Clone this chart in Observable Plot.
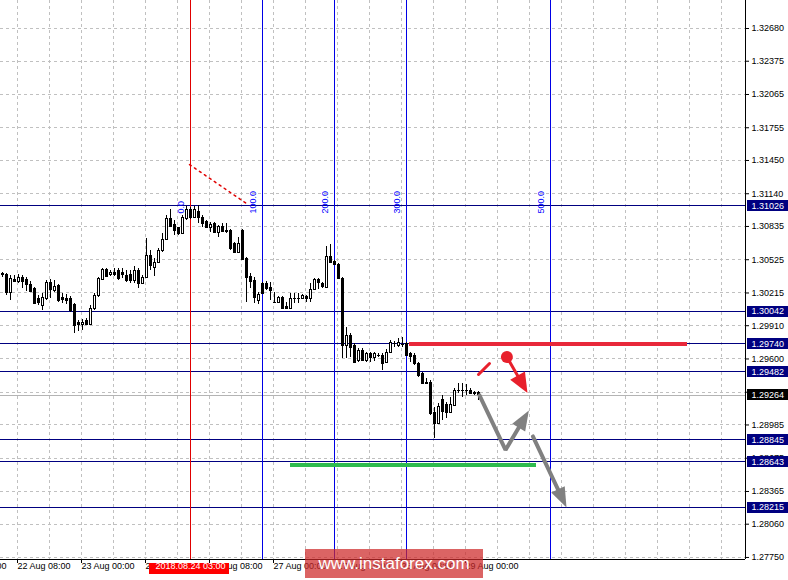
<!DOCTYPE html>
<html><head><meta charset="utf-8">
<script src="https://cdn.jsdelivr.net/npm/d3@7"></script>
<script src="https://cdn.jsdelivr.net/npm/@observablehq/plot@0.6"></script>
<style>
body{margin:0;background:#fff;}
#wrap{position:relative;width:788px;height:580px;overflow:hidden;}
#wrap svg{display:block;}
.wm{position:absolute;left:305px;top:549px;width:178px;height:29px;background:rgba(205,40,40,0.72);color:#fff;font:17px "Liberation Sans",Arial,sans-serif;line-height:29px;text-align:center;}
</style></head><body>
<div id="wrap"><div class="wm">www.instaforex.com</div></div>
<script>
// ---- data: H1 candles, bar 0 = 22 Aug 04:00 ----
const open = [
1.30390,1.30387,1.30219,1.30340,1.30321,1.30359,1.30340,1.30293,1.30256,1.30163,
1.30097,1.30163,1.30312,1.30237,1.30284,1.30172,1.30163,1.30163,1.30107,1.29939,
1.29921,1.29958,1.29921,1.30069,1.30191,1.30340,1.30433,1.30387,1.30405,1.30424,
1.30405,1.30377,1.30387,1.30331,1.30424,1.30303,1.30359,1.30564,1.30452,1.30499,
1.30602,1.30713,1.30909,1.30844,1.30816,1.30769,1.30900,1.30993,1.30918,1.30974,
1.30918,1.30872,1.30825,1.30862,1.30778,1.30834,1.30797,1.30797,1.30676,1.30592,
1.30797,1.30536,1.30368,1.30331,1.30144,1.30303,1.30303,1.30265,1.30125,1.30125,
1.30172,1.30088,1.30069,1.30163,1.30160,1.30163,1.30181,1.30163,1.30247,1.30340,
1.30303,1.30265,1.30555,1.30508,1.30480,1.30349,1.29725,1.29818,1.29725,1.29585,
1.29678,1.29585,1.29650,1.29613,1.29632,1.29632,1.29566,1.29660,1.29743,1.29725,
1.29734,1.29743,1.29650,1.29632,1.29557,1.29464,1.29380,1.29380,1.29100,1.28997,
1.29221,1.29175,1.29100,1.29165,1.29305,1.29300,1.29305,1.29305,1.29277,1.29287];
const high = [
1.30405,1.30396,1.30377,1.30377,1.30387,1.30377,1.30359,1.30321,1.30265,1.30191,
1.30209,1.30331,1.30340,1.30331,1.30293,1.30209,1.30200,1.30181,1.30116,1.29958,
1.29967,1.29977,1.30097,1.30209,1.30359,1.30443,1.30443,1.30424,1.30443,1.30443,
1.30443,1.30424,1.30424,1.30461,1.30443,1.30377,1.30722,1.30611,1.30536,1.30629,
1.30769,1.30937,1.30993,1.30890,1.30825,1.30937,1.31021,1.31012,1.31021,1.31030,
1.30937,1.30890,1.30872,1.30872,1.30844,1.30862,1.30862,1.30806,1.30685,1.30732,
1.30806,1.30545,1.30396,1.30359,1.30219,1.30312,1.30321,1.30312,1.30219,1.30181,
1.30181,1.30125,1.30209,1.30209,1.30209,1.30200,1.30191,1.30303,1.30349,1.30349,
1.30312,1.30648,1.30667,1.30517,1.30489,1.30359,1.29893,1.29837,1.29743,1.29697,
1.29697,1.29660,1.29660,1.29660,1.29650,1.29650,1.29688,1.29771,1.29762,1.29790,
1.29799,1.29753,1.29660,1.29650,1.29566,1.29473,1.29417,1.29398,1.29147,1.29184,
1.29259,1.29193,1.29240,1.29324,1.29371,1.29371,1.29361,1.29324,1.29296,1.29296];
const low = [
1.30359,1.30191,1.30144,1.30312,1.30303,1.30256,1.30228,1.30219,1.30107,1.30097,
1.30051,1.30144,1.30163,1.30219,1.30125,1.30116,1.30107,1.30033,1.29837,1.29855,
1.29865,1.29911,1.29911,1.30051,1.30172,1.30331,1.30359,1.30368,1.30368,1.30331,
1.30349,1.30312,1.30303,1.30303,1.30256,1.30293,1.30349,1.30424,1.30368,1.30489,
1.30592,1.30704,1.30825,1.30750,1.30750,1.30760,1.30890,1.30900,1.30909,1.30862,
1.30825,1.30816,1.30778,1.30769,1.30732,1.30778,1.30769,1.30611,1.30583,1.30583,
1.30517,1.30125,1.30256,1.30116,1.30107,1.30200,1.30237,1.30144,1.30116,1.30125,
1.30060,1.30060,1.30060,1.30116,1.30116,1.30153,1.30125,1.30125,1.30237,1.30247,
1.30256,1.30256,1.30489,1.30471,1.30340,1.29604,1.29604,1.29613,1.29557,1.29566,
1.29576,1.29566,1.29566,1.29576,1.29613,1.29492,1.29557,1.29650,1.29706,1.29706,
1.29706,1.29622,1.29566,1.29538,1.29427,1.29361,1.29361,1.29072,1.28858,1.28988,
1.29025,1.29044,1.29091,1.29156,1.29277,1.29240,1.29259,1.29268,1.29259,1.29212];
const close = [
1.30380,1.30219,1.30349,1.30321,1.30359,1.30321,1.30293,1.30228,1.30116,1.30125,
1.30172,1.30312,1.30247,1.30275,1.30144,1.30153,1.30144,1.30051,1.29911,1.29921,
1.29939,1.29921,1.30069,1.30191,1.30349,1.30433,1.30368,1.30405,1.30387,1.30349,
1.30387,1.30331,1.30331,1.30424,1.30303,1.30359,1.30564,1.30471,1.30499,1.30602,
1.30713,1.30909,1.30834,1.30797,1.30769,1.30918,1.30993,1.30918,1.30993,1.30918,
1.30862,1.30825,1.30853,1.30778,1.30834,1.30788,1.30788,1.30629,1.30592,1.30676,
1.30527,1.30359,1.30321,1.30172,1.30200,1.30209,1.30256,1.30237,1.30120,1.30172,
1.30069,1.30069,1.30163,1.30160,1.30163,1.30191,1.30163,1.30247,1.30340,1.30312,
1.30275,1.30555,1.30499,1.30480,1.30349,1.29725,1.29818,1.29706,1.29566,1.29678,
1.29585,1.29650,1.29613,1.29650,1.29628,1.29557,1.29660,1.29753,1.29740,1.29753,
1.29730,1.29632,1.29622,1.29557,1.29445,1.29371,1.29371,1.29091,1.28997,1.29156,
1.29109,1.29100,1.29175,1.29305,1.29300,1.29305,1.29298,1.29277,1.29280,1.29264];

const yTicks = [1.32680,1.32375,1.32065,1.31755,1.31450,1.31140,1.30835,1.30525,1.30215,1.29910,1.29600,1.29290,1.28985,1.28675,1.28365,1.28060,1.27750];
const levels = [1.31026,1.30042,1.29740,1.29482,1.28845,1.28643,1.28215];
const lastPrice = 1.29264;
const timeLabels = ["21 Aug 16:00","22 Aug 08:00","23 Aug 00:00","23 Aug 16:00","24 Aug 08:00","27 Aug 00:00","27 Aug 16:00","28 Aug 08:00","29 Aug 00:00"];
const timeLabelBars = [-12,4,20,36,52,68,84,100,116];
const gridBars = d3.range(4, 181, 8);
const fibBars = [47,65,83,101,137];
const fibLabels = ["0.0","100.0","200.0","300.0","500.0"];
const fibLabelPrice = 1.30956;
const fibBaseLine = [[46.75,1.31412],[61,1.31049]];
const selectedBar = 47, selectedTimeLabel = "2018.08.24 03:00";
const resistance = [101.75, 171.25, 1.29740];
const support = [72, 133.5, 1.28612];
const redDash = [[119,1.29455],[121.75,1.29558]];
const redDot = [126.1,1.29618];
const redArrow = [[126.1,1.29618],[131.25,1.29283]];
const grayArrow1 = [[119.25,1.29260],[125.75,1.28752],[131.6,1.29120]];
const grayArrow2 = [[132.6,1.28878],[141,1.28216]];

// ---- layout ----
const W = 788, H = 580, mL = 0, mR = 43, mT = 0, mB = 21;
const xDomain = [-0.5, 185.75];
const yDomain = [1.27731, 1.32941];
const sx = Plot.scale({x: {domain: xDomain, range: [mL, W - mR]}});
const sy = Plot.scale({y: {domain: yDomain, range: [H - mB, mT]}});
const toData = ([a, b]) => ({x: sx.invert(a), y: sy.invert(b)});

function arrowParts(path, L, Wd) {
  const pts = path.map(p => [sx.apply(p[0]), sy.apply(p[1])]);
  const n = pts.length;
  const [tx, ty] = pts[n - 1], [px, py] = pts[n - 2];
  const len = Math.hypot(tx - px, ty - py);
  const ux = (tx - px) / len, uy = (ty - py) / len;
  const bx = tx - ux * L, by = ty - uy * L;
  const nx = -uy, ny = ux;
  const shaft = [...pts.slice(0, n - 1), [bx + ux * 2, by + uy * 2]].map(toData);
  const head = [[tx, ty], [bx + nx * Wd, by + ny * Wd], [bx - nx * Wd, by - ny * Wd], [tx, ty]].map(toData);
  return {shaft, head};
}
const ra = arrowParts(redArrow, 20, 8.5);
const g1 = arrowParts(grayArrow1, 20, 7.5);
const g2 = arrowParts(grayArrow2, 20, 7.5);

const candles = open.map((o, i) => ({i, o, h: high[i], l: low[i], c: close[i]}));
const boxHalf = sy.invert(0) - sy.invert(5.5);
const boxX1 = sx.invert(747), boxX2 = sx.invert(790);
const levelBoxes = levels.map(v => ({v, fill: "#000080"})).concat([{v: lastPrice, fill: "#000"}]);
const fibData = fibBars.map((b, k) => ({b, t: fibLabels[k], color: k === 0 ? "#e00000" : "#0000e6"}));
const tl = timeLabels.map((t, k) => ({t, x: timeLabelBars[k] - 0.25}));
const crisp = {shapeRendering: "crispEdges"};

const chart = Plot.plot({
  width: W, height: H, marginLeft: mL, marginRight: mR, marginTop: mT, marginBottom: mB,
  style: {fontFamily: "'Liberation Sans', Arial, sans-serif", fontSize: "9px", background: "#fff", color: "#000"},
  x: {domain: xDomain, axis: "bottom", ticks: timeLabelBars.map(b => b - 0.25), tickFormat: () => "", tickSize: 4, label: null},
  y: {domain: yDomain, axis: "right", ticks: yTicks, tickFormat: d => d.toFixed(5), tickSize: 3, tickPadding: 3, label: null},
  marks: [
    Plot.ruleY(yTicks, {stroke: "#c0c0c0", strokeDasharray: "3,3", ...crisp}),
    Plot.ruleX(gridBars, {x: d => d - 0.25, stroke: "#c0c0c0", strokeDasharray: "3,3", ...crisp}),
    Plot.ruleY(levels, {stroke: "#000080", ...crisp}),
    Plot.ruleY([lastPrice], {stroke: "#b4b4b4", ...crisp}),
    Plot.ruleX(fibData, {x: "b", stroke: "color", ...crisp}),
    Plot.line(fibBaseLine, {x: d => d[0], y: d => d[1], stroke: "#e00000", strokeDasharray: "2,4"}),
    Plot.ruleX(candles, {x: "i", y1: "l", y2: "h", stroke: "#000", ...crisp}),
    Plot.rect(candles, {x1: d => d.i - 0.25, x2: d => d.i + 0.25, y1: "o", y2: "c",
      fill: d => d.c > d.o ? "#fff" : "#000", stroke: "#000", strokeWidth: 1, ...crisp}),
    Plot.ruleY([resistance], {x1: d => d[0], x2: d => d[1], y: d => d[2], stroke: "#e8283a", strokeWidth: 4}),
    Plot.ruleY([support], {x1: d => d[0], x2: d => d[1], y: d => d[2], stroke: "#2fbb4f", strokeWidth: 4}),
    Plot.line(redDash, {x: d => d[0], y: d => d[1], stroke: "#e8202c", strokeWidth: 3}),
    Plot.line(ra.shaft, {x: "x", y: "y", stroke: "#e8202c", strokeWidth: 3}),
    Plot.line(ra.head, {x: "x", y: "y", fill: "#e8202c", stroke: "none"}),
    Plot.dot([redDot], {x: d => d[0], y: d => d[1], r: 6, fill: "#e8202c"}),
    Plot.line(g1.shaft, {x: "x", y: "y", stroke: "#808080", strokeWidth: 4, strokeLinejoin: "miter"}),
    Plot.line(g1.head, {x: "x", y: "y", fill: "#808080", stroke: "none"}),
    Plot.line(g2.shaft, {x: "x", y: "y", stroke: "#808080", strokeWidth: 4}),
    Plot.line(g2.head, {x: "x", y: "y", fill: "#808080", stroke: "none"}),
    Plot.text(fibData, {x: "b", y: () => fibLabelPrice, text: "t", rotate: -90, textAnchor: "start", dx: -9, fill: "#0000ff", fontSize: 9}),
    Plot.ruleY([yDomain[0]], {stroke: "#000", ...crisp}),
    Plot.ruleX([xDomain[1]], {stroke: "#000", ...crisp}),
    Plot.rect(levelBoxes, {x1: () => boxX1, x2: () => boxX2, y1: d => d.v - boxHalf, y2: d => d.v + boxHalf, fill: "fill", ...crisp}),
    Plot.text(levelBoxes, {y: "v", text: d => d.v.toFixed(5), frameAnchor: "right", dx: 6, textAnchor: "start", fill: "#fff"}),
    Plot.text(tl, {x: "x", text: "t", frameAnchor: "bottom", dy: 9, textAnchor: "start", fill: "#000"}),
    Plot.rect([selectedBar], {x1: () => sx.invert(149), x2: () => sx.invert(229), y1: () => sy.invert(563), y2: () => sy.invert(574), fill: "#ff0000", ...crisp}),
    Plot.text([selectedTimeLabel], {x: () => selectedBar, text: d => d, frameAnchor: "bottom", dy: 9, fill: "#fff"})
  ]
});
const wrap = document.getElementById("wrap");
wrap.insertBefore(chart, wrap.firstChild);
</script>
</body></html>
